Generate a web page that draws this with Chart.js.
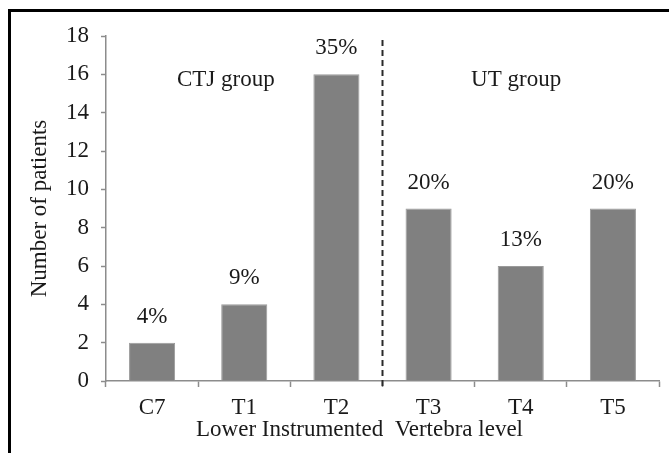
<!DOCTYPE html>
<html>
<head>
<meta charset="utf-8">
<script src="https://cdn.jsdelivr.net/npm/chart.js@4"></script>
<style>
  html, body { margin: 0; padding: 0; background: #fff; }
  #wrap { position: relative; width: 669px; height: 453px; overflow: hidden; }
  #frame { position: absolute; left: 8px; top: 9px; width: 700px; height: 500px;
           border-left: 3px solid #000; border-top: 3px solid #000; }
  canvas { position: absolute; left: 0; top: 0; }
</style>
</head>
<body>
<div id="wrap">
  <div id="frame"></div>
  <canvas id="chart" width="669" height="453"></canvas>
</div>
<script>
const levels = ["C7", "T1", "T2", "T3", "T4", "T5"];
const patients = [2, 4, 16, 9, 6, 9];
const shares = ["4%", "9%", "35%", "20%", "13%", "20%"];
const yTicks = [0, 2, 4, 6, 8, 10, 12, 14, 16, 18];
const groupNames = ["CTJ group", "UT group"];
const groupAt = [0.8, 3.95];

const serif = "'Liberation Serif', 'Times New Roman', serif";
const ink = "#1a1a1a";
const axisGray = "#8c8c8c";
const fs = 23;

const extras = {
  id: "extras",
  afterDatasetsDraw(chart) {
    const { ctx, chartArea, scales } = chart;
    const x = scales.x, y = scales.y;
    ctx.save();
    ctx.fillStyle = ink;
    ctx.font = fs + "px " + serif;
    ctx.textAlign = "center";
    ctx.textBaseline = "middle";
    // percentages over each bar
    patients.forEach((v, i) => {
      ctx.fillText(shares[i], x.getPixelForValue(i), y.getPixelForValue(v) - 26);
    });
    // group names
    groupNames.forEach((g, i) => {
      ctx.fillText(g, x.getPixelForValue(groupAt[i]), y.getPixelForValue(15.7));
    });
    // dashed divider between T2 and T3
    const dx = (x.getPixelForValue(2) + x.getPixelForValue(3)) / 2;
    ctx.strokeStyle = "#2a2a2a";
    ctx.lineWidth = 2;
    ctx.setLineDash([6, 4]);
    ctx.beginPath();
    ctx.moveTo(dx, chartArea.top + 4);
    ctx.lineTo(dx, chartArea.bottom + 6);
    ctx.stroke();
    ctx.restore();
  }
};

new Chart(document.getElementById("chart"), {
  type: "bar",
  data: {
    labels: levels,
    datasets: [
      {
        data: patients,
        backgroundColor: "#808080",
        borderColor: "#9a9a9a",
        borderWidth: 1,
        barPercentage: 0.5,
        categoryPercentage: 1,
      },
    ],
  },
  options: {
    responsive: false,
    animation: false,
    layout: { padding: { left: 0, top: 36, right: 10, bottom: 0 } },
    plugins: {
      legend: { display: false },
      tooltip: { enabled: false },
    },
    scales: {
      x: {
        afterFit: (s) => { s.height = 72; },
        grid: {
          offset: true,
          drawOnChartArea: false,
          tickLength: 6,
          tickColor: axisGray,
          tickWidth: 1.5,
        },
        border: { color: axisGray, width: 1.5 },
        ticks: {
          color: ink,
          padding: 7,
          font: { family: serif, size: fs },
        },
        title: {
          display: true,
          // trailing spaces nudge the centred title left like the original
          text: "Lower Instrumented  Vertebra level        ",
          color: ink,
          font: { family: serif, size: fs },
          padding: { top: 0, bottom: 9 },
        },
      },
      y: {
        min: 0,
        max: 18,
        afterFit: (s) => { s.width = 106; },
        afterBuildTicks: (s) => { s.ticks = yTicks.map((v) => ({ value: v })); },
        grid: {
          drawOnChartArea: false,
          tickLength: 5,
          tickColor: axisGray,
          tickWidth: 1.5,
        },
        border: { color: axisGray, width: 1.5 },
        ticks: {
          color: ink,
          padding: 12,
          font: { family: serif, size: fs },
        },
        title: {
          display: true,
          text: "Number of patients",
          color: ink,
          font: { family: serif, size: fs },
          padding: { top: 26, bottom: 0 },
        },
      },
    },
  },
  plugins: [extras],
});
</script>
</body>
</html>
